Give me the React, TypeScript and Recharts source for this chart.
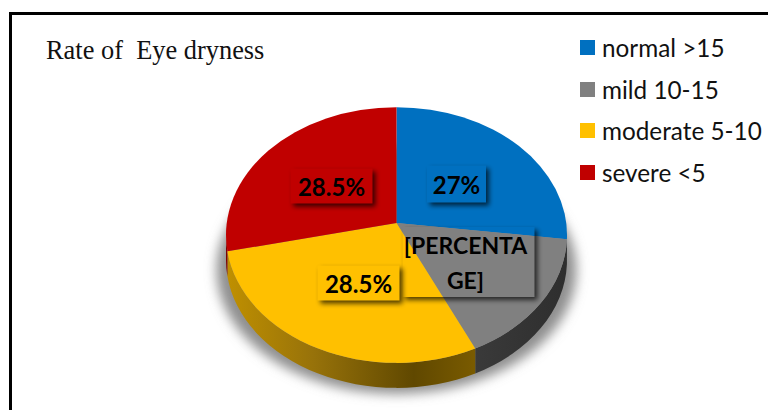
import { PieChart, Pie, Legend } from 'recharts'

const categories = ['normal >15', 'mild 10-15', 'moderate 5-10', 'severe <5']
const percentages = [27, 16, 28.5, 28.5]
const sliceColors = ['#0070c0', '#808080', '#ffc000', '#c00000']
const wallFills = ['#00497d', 'url(#wallGray)', 'url(#wallGold)', '#7d0000']
const labelLines = [['27%'], ['[PERCENTA', 'GE]'], ['28.5%'], ['28.5%']]

const data = categories.map((name, i) => ({
  name,
  value: percentages[i],
  fill: sliceColors[i],
  wall: wallFills[i],
  lines: labelLines[i],
}))

const WIDTH = 768
const HEIGHT = 410
const APEX_X = 396.5
const APEX_Y = 223
const RADIUS = 170.5
const TILT = 0.75 // vertical squash of the disc
const RIM_DROP = 12 // rim centre sits below the apex
const DEPTH = 25

// label boxes, relative to the apex: centre x, centre y, width, height
const LABEL_BOXES = [
  [60, -39, 59, 37],
  [72, 39, 132, 70],
  [-38, 60, 82, 35],
  [-65, -37, 82, 35],
]

// where a ray from the apex at a pie angle meets the tilted rim
function rimPoint(angle: number, rx: number, ry: number) {
  const a = (angle * Math.PI) / 180
  const dx = Math.cos(a) * rx
  const dy = -Math.sin(a) * ry
  const A = (dx * dx) / (rx * rx) + (dy * dy) / (ry * ry)
  const B = (2 * dy * -RIM_DROP) / (ry * ry)
  const C = (RIM_DROP * RIM_DROP) / (ry * ry) - 1
  const t = (-B + Math.sqrt(B * B - 4 * A * C)) / (2 * A)
  return { x: t * dx, y: t * dy - RIM_DROP }
}

function TopSlice(props: any) {
  const { cx, cy, outerRadius, startAngle, endAngle, fill } = props
  const rx = outerRadius
  const ry = outerRadius * TILT
  const p1 = rimPoint(startAngle, rx, ry)
  const p2 = rimPoint(endAngle, rx, ry)
  const large = Math.abs(startAngle - endAngle) > 180 ? 1 : 0
  const d = `M${cx},${cy} L${cx + p1.x},${cy + RIM_DROP + p1.y} A${rx},${ry} 0 ${large} 1 ${cx + p2.x},${cy + RIM_DROP + p2.y} Z`
  return <path d={d} fill={fill} stroke="none" />
}

// side wall of a slice: only the part of the rim on the front half of the disc
function WallSlice(props: any) {
  const { cx, cy, outerRadius, startAngle, endAngle, payload } = props
  const rx = outerRadius
  const ry = outerRadius * TILT
  const p1 = rimPoint(startAngle, rx, ry)
  const p2 = rimPoint(endAngle, rx, ry)
  let from = Math.atan2(p1.y / ry, p1.x / rx)
  let to = Math.atan2(p2.y / ry, p2.x / rx)
  while (to < from) to += Math.PI * 2
  from = Math.max(from, 0)
  to = Math.min(to, Math.PI)
  if (to <= from) return null
  const oy = cy + RIM_DROP
  const ax = cx + Math.cos(from) * rx
  const ay = oy + Math.sin(from) * ry
  const bx = cx + Math.cos(to) * rx
  const by = oy + Math.sin(to) * ry
  const d = `M${ax},${ay} A${rx},${ry} 0 0 1 ${bx},${by} L${bx},${by + DEPTH} A${rx},${ry} 0 0 0 ${ax},${ay + DEPTH} Z`
  return <path d={d} fill={payload.wall} stroke="none" />
}

function SliceLabel(props: any) {
  const { cx, cy, index } = props
  const [bx, by, bw, bh] = LABEL_BOXES[index]
  const lines = data[index].lines
  const wrapped = lines.length > 1
  const x = cx + bx
  const y = cy + by
  return (
    <g>
      <rect x={x - bw / 2} y={y - bh / 2} width={bw} height={bh} fill="#000" filter="url(#boxShadow)" />
      {lines.map((line, i) => (
        <text
          key={line}
          x={wrapped ? x - 3 : x}
          y={y + (i - (lines.length - 1) / 2) * 35}
          textAnchor="middle"
          dominantBaseline="central"
          fontFamily="Lato, sans-serif"
          fontWeight={700}
          fontSize={wrapped ? 23 : 24}
          fill="#000"
        >
          {line}
        </text>
      ))}
    </g>
  )
}

function LegendList({ payload }: any) {
  // both pie layers report entries, so keep one per category
  const entries = categories.map((name) => (payload ?? []).find((entry: any) => entry.value === name)).filter(Boolean)
  return (
    <div>
      {entries.map((entry: any) => (
        <div key={entry.value} style={{ display: 'flex', alignItems: 'center', height: 41.6 }}>
          <span style={{ width: 15, height: 15, background: entry.color, marginRight: 7, flexShrink: 0 }} />
          <span style={{ fontFamily: 'Lato, sans-serif', fontSize: 24.3, color: '#111', whiteSpace: 'nowrap' }}>{entry.value}</span>
        </div>
      ))}
    </div>
  )
}

export default function App() {
  return (
    <div style={{ position: 'fixed', left: 0, top: 0, width: WIDTH, height: HEIGHT, overflow: 'hidden', background: '#fff' }}>
      {/* chart frame runs off the right and bottom edges */}
      <div style={{ position: 'absolute', left: 9, top: 12, width: 800, height: 440, border: '3px solid #000', boxSizing: 'border-box' }} />
      <div
        style={{
          position: 'absolute',
          left: 46,
          top: 35,
          fontFamily: '"Liberation Serif", serif',
          fontSize: 26.4,
          color: '#111',
          whiteSpace: 'pre',
        }}
      >
        Rate of  Eye dryness
      </div>
      <svg width={WIDTH} height={HEIGHT} style={{ position: 'absolute', left: 0, top: 0 }}>
        <defs>
          <linearGradient id="wallGold" gradientUnits="userSpaceOnUse" x1={226} x2={476} y1={0} y2={0}>
            <stop offset="0" stopColor="#c09000" />
            <stop offset="0.35" stopColor="#97720a" />
            <stop offset="0.75" stopColor="#604800" />
            <stop offset="1" stopColor="#7a5b00" />
          </linearGradient>
          <linearGradient id="wallGray" gradientUnits="userSpaceOnUse" x1={474} x2={567} y1={0} y2={0}>
            <stop offset="0" stopColor="#3a3a3a" />
            <stop offset="1" stopColor="#2e2e2e" />
          </linearGradient>
          <filter id="groundBlur" x="-20%" y="-20%" width="140%" height="140%">
            <feGaussianBlur stdDeviation="6" />
          </filter>
          <filter id="boxShadow" x="-30%" y="-30%" width="160%" height="160%">
            <feGaussianBlur in="SourceAlpha" stdDeviation="2.5" result="blur" />
            <feOffset in="blur" dx="3" dy="3" result="offset" />
            <feComposite in="offset" in2="SourceAlpha" operator="out" result="outside" />
            <feComponentTransfer in="outside">
              <feFuncA type="linear" slope="0.7" />
            </feComponentTransfer>
          </filter>
        </defs>
        <ellipse cx={396.5} cy={270} rx={180} ry={124} fill="#8f8f8f" filter="url(#groundBlur)" />
      </svg>
      <div style={{ position: 'absolute', left: 0, top: 0 }}>
        <PieChart width={WIDTH} height={HEIGHT} margin={{ top: 0, right: 0, bottom: 0, left: 0 }}>
          <Pie
            data={data}
            dataKey="value"
            nameKey="name"
            cx={APEX_X}
            cy={APEX_Y}
            outerRadius={RADIUS}
            startAngle={90}
            endAngle={-270}
            stroke="none"
            legendType="none"
            shape={WallSlice}
            isAnimationActive={false}
          />
          <Pie
            data={data}
            dataKey="value"
            nameKey="name"
            cx={APEX_X}
            cy={APEX_Y}
            outerRadius={RADIUS}
            startAngle={90}
            endAngle={-270}
            stroke="none"
            legendType="square"
            shape={TopSlice}
            label={SliceLabel}
            labelLine={false}
            isAnimationActive={false}
          />
          <Legend
            layout="vertical"
            content={<LegendList />}
            wrapperStyle={{ position: 'absolute', left: 580, top: 27, width: 188, bottom: 'auto', right: 'auto' }}
          />
        </PieChart>
      </div>
    </div>
  )
}
